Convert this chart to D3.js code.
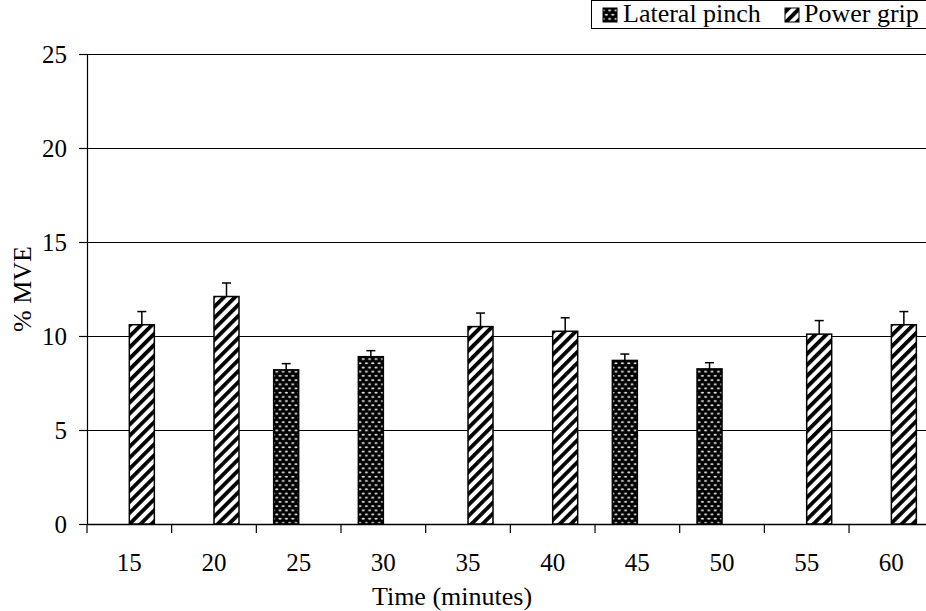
<!DOCTYPE html>
<html><head><meta charset="utf-8">
<script src="https://cdn.jsdelivr.net/npm/d3@7"></script>
<style>body{margin:0;background:#fff}svg{display:block}
svg text{font-family:"Times New Roman", Times, "Liberation Serif", "DejaVu Serif", serif !important;}</style>
</head><body><svg id="c" width="926" height="611"></svg>
<script>
const categories = ["15","20","25","30","35","40","45","50","55","60"];
const seriesNames = ["Lateral pinch","Power grip"];
const lateralPinch = [null,null,8.2,8.9,null,null,8.7,8.25,null,null];
const lateralPinchErr = [null,null,0.33,0.32,null,null,0.34,0.33,null,null];
const powerGrip = [10.6,12.1,null,null,10.5,10.25,null,null,10.1,10.6];
const powerGripErr = [0.7,0.72,null,null,0.72,0.72,null,null,0.72,0.7];
const yTicks = [0,5,10,15,20,25];

const svg = d3.select("#c");
const L = 87, T = 54, B = 524, band = 84.67, R = L + band*categories.length;
const defs = svg.append("defs");
// dotted pattern
const p1 = defs.append("pattern").attr("id","dots").attr("patternUnits","userSpaceOnUse").attr("width",6.4).attr("height",8.4);
p1.append("rect").attr("width",6.4).attr("height",8.4).attr("fill","#000");
p1.append("ellipse").attr("cx",1.6).attr("cy",2.1).attr("rx",1.6).attr("ry",1.0).attr("fill","#e4e4e4");
p1.append("ellipse").attr("cx",4.8).attr("cy",6.3).attr("rx",1.6).attr("ry",1.0).attr("fill","#e4e4e4");
// stripe pattern
const p2 = defs.append("pattern").attr("id","stripes").attr("patternUnits","userSpaceOnUse").attr("width",7.8).attr("height",7.8).attr("patternTransform","rotate(45)");
p2.append("rect").attr("width",7.8).attr("height",7.8).attr("fill","#fff");
p2.append("rect").attr("width",3.8).attr("height",7.8).attr("fill","#000");
const fills = ["url(#dots)","url(#stripes)"];

const x = d3.scaleBand().domain(categories).range([L,R]).padding(0);
const x1 = d3.scaleBand().domain(seriesNames).range([band/2-25, band/2+25]).padding(0);
const y = d3.scaleLinear().domain([0,25]).range([B,T]);

// gridlines
svg.append("g").selectAll("line").data(yTicks.filter(d=>d>0)).join("line")
  .attr("x1",L).attr("x2",R).attr("y1",d=>y(d)).attr("y2",d=>y(d))
  .attr("stroke","#000").attr("stroke-width",1).attr("shape-rendering","crispEdges");

// y axis
const ya = svg.append("g").attr("transform",`translate(${L},0)`)
  .call(d3.axisLeft(y).tickValues(yTicks).tickSize(8).tickPadding(12).tickSizeOuter(0));
ya.attr("font-family",null);
ya.select(".domain").attr("stroke","#000").attr("stroke-width",1.2);
ya.selectAll(".tick line").attr("stroke","#000").attr("stroke-width",1.2);
ya.selectAll("text").style("font-size","25px").attr("fill","#000");

// x axis
const xa = svg.append("g").attr("transform",`translate(0,${B})`)
  .call(d3.axisBottom(x).tickSize(0).tickPadding(29).tickSizeOuter(0));
xa.attr("font-family",null);
xa.select(".domain").attr("stroke","#000").attr("stroke-width",1.5);
xa.selectAll("text").style("font-size","25px").attr("fill","#000");
svg.append("g").selectAll("line").data(d3.range(categories.length+1)).join("line")
  .attr("x1",i=>L+i*band).attr("x2",i=>L+i*band).attr("y1",B).attr("y2",B+9)
  .attr("stroke","#000").attr("stroke-width",1.2);

// bars
const series = [
  {name:seriesNames[0], vals:lateralPinch, errs:lateralPinchErr, fill:fills[0]},
  {name:seriesNames[1], vals:powerGrip, errs:powerGripErr, fill:fills[1]}
];
series.forEach(s=>{
  const data = categories.map((c,i)=>({c, v:s.vals[i], e:s.errs[i]})).filter(d=>d.v!=null);
  const g = svg.append("g");
  g.selectAll("rect").data(data).join("rect")
    .attr("x",d=>x(d.c)+x1(s.name)).attr("width",x1.bandwidth())
    .attr("y",d=>y(d.v)).attr("height",d=>y(0)-y(d.v))
    .attr("fill",s.fill).attr("stroke","#000").attr("stroke-width",1.5);
  const cx = d=>x(d.c)+x1(s.name)+x1.bandwidth()/2;
  g.selectAll("line.e").data(data).join("line").attr("class","e")
    .attr("x1",cx).attr("x2",cx).attr("y1",d=>y(d.v)).attr("y2",d=>y(d.v+d.e))
    .attr("stroke","#000").attr("stroke-width",1.5);
  g.selectAll("line.c").data(data).join("line").attr("class","c")
    .attr("x1",d=>cx(d)-4.5).attr("x2",d=>cx(d)+4.5).attr("y1",d=>y(d.v+d.e)).attr("y2",d=>y(d.v+d.e))
    .attr("stroke","#000").attr("stroke-width",1.5);
});

// axis titles
svg.append("text").attr("x",452).attr("y",605).attr("text-anchor","middle")
  .style("font-size","26px").text("Time (minutes)");
svg.append("text").attr("transform","translate(31,289) rotate(-90)").attr("text-anchor","middle")
  .style("font-size","26px").text("% MVE");

// legend
const lg = svg.append("g");
lg.append("rect").attr("x",591.5).attr("y",0.5).attr("width",340).attr("height",28)
  .attr("fill","#fff").attr("stroke","#000").attr("stroke-width",1);
const legItems = [{x:603, tx:623}, {x:785, tx:804}];
series.forEach((s,i)=>{
  lg.append("rect").attr("x",legItems[i].x).attr("y",8).attr("width",14).attr("height",14)
    .attr("fill",s.fill).attr("stroke","#000").attr("stroke-width",1);
  lg.append("text").attr("x",legItems[i].tx).attr("y",22).style("font-size","26px").text(s.name);
});
</script></body></html>
